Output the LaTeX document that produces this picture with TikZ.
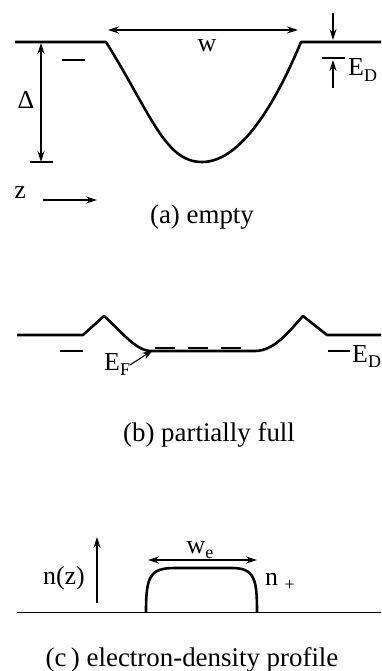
\documentclass[tikz,border=0pt]{standalone}
\usepackage{fontspec}
\setmainfont{Liberation Serif}
\usetikzlibrary{positioning, arrows.meta}
\newcommand{\lowsub}[1]{\raisebox{-0.45ex}{\fontsize{18}{20}\selectfont #1}}

\begin{document}
\begin{tikzpicture}[x=1bp, y=-1bp,
    well/.style={line width=2.6pt, line join=round},
    level/.style={line width=2.2pt},
    dim/.style={line width=1.1pt, -{Stealth[length=11bp, width=7bp]}},
    dimboth/.style={line width=1.1pt,
      {Stealth[length=11bp, width=7bp]}-{Stealth[length=11bp, width=7bp]}},
    lbl/.style={font=\fontsize{26}{30}\selectfont, inner sep=0pt},
    caption/.style={font=\fontsize{27}{32}\selectfont, inner sep=0pt}]
  \useasboundingbox (0,0) rectangle (381,671);

  % (a) empty
  \coordinate (aL) at (15,42);
  \coordinate (aWl) at (106,42);
  \coordinate (aBot) at (202,162);
  \coordinate (aWr) at (301,42);
  \coordinate (aR) at (381,42);
  \draw[well] (aL) -- (aWl) .. controls (151,114) and (165,162) .. (aBot)
    .. controls (237,162) and (271,114) .. (aWr) -- (aR);
  \coordinate (wL) at (108,30);
  \coordinate (wR) at (298,30);
  \draw[dimboth] (wL) -- (wR);
  \node[lbl, anchor=base] (wlab) at (207,52) {w};
  \coordinate (dTop) at (41,43);
  \coordinate (dBot) at (41,162);
  \coordinate (tickL) at (30,162);
  \coordinate (tickR) at (53,162);
  \draw[dimboth] (dTop) -- (dBot);
  \draw[line width=1.3pt] (tickL) -- (tickR);
  \node[lbl] (delta) at (26,100) {Δ};
  \coordinate (dLa) at (62,60);
  \coordinate (dLb) at (85,60);
  \draw[level] (dLa) -- (dLb);
  \coordinate (dRa) at (322,58);
  \coordinate (dRb) at (345,58);
  \draw[level] (dRa) -- (dRb);
  \coordinate (eDtop) at (333,13);
  \coordinate (eDline) at (333,40);
  \coordinate (eDlow) at (333,88);
  \coordinate (eDdash) at (333,60);
  \draw[dim] (eDtop) -- (eDline);
  \draw[dim] (eDlow) -- (eDdash);
  \node[lbl, anchor=base west] (eDa) at (348,76) {E\lowsub{D}};
  \node[lbl, anchor=base] (zlab) at (20,198) {z};
  \coordinate (zA) at (43,200);
  \coordinate (zB) at (97,200);
  \draw[dim] (zA) -- (zB);
  \node[caption] (capA) at (202,217) {(a) empty};

  % (b) partially full
  \coordinate (bL) at (17,335);
  \coordinate (bKl) at (83,335);
  \coordinate (bPl) at (104,316);
  \coordinate (bFl) at (150,351);
  \coordinate (bFr) at (255,351);
  \coordinate (bPr) at (303,316);
  \coordinate (bKr) at (327,335);
  \coordinate (bR) at (381,335);
  \draw[well] (bL) -- (bKl) -- (bPl) .. controls (120,330) and (135,350) .. (bFl)
    -- (bFr) .. controls (275,351) and (290,330) .. (bPr) -- (bKr) -- (bR);
  \coordinate (fA) at (155,348);
  \coordinate (fB) at (242,348);
  \draw[level, dash pattern=on 20bp off 13bp] (fA) -- (fB);
  \coordinate (bDa) at (60,351);
  \coordinate (bDb) at (83,351);
  \draw[level] (bDa) -- (bDb);
  \coordinate (bDc) at (328,351);
  \coordinate (bDd) at (350,351);
  \draw[level] (bDc) -- (bDd);
  \node[lbl, anchor=base west] (eDb) at (352,362) {E\lowsub{D}};
  \node[lbl, anchor=base west] (eF) at (104,370) {E\lowsub{F}};
  \coordinate (eFtail) at (130,365);
  \coordinate (eFtip) at (153,350);
  \draw[dim] (eFtail) -- (eFtip);
  \node[caption] (capB) at (209,435) {(b) partially full};

  % (c) electron-density profile
  \coordinate (cL) at (17,612);
  \coordinate (cR) at (381,612);
  \draw[line width=1pt] (cL) -- (cR);
  \coordinate (nA) at (146,612);
  \coordinate (nB) at (257,612);
  \draw[well] (nA) .. controls (146,576) and (150,568) .. (175,568) -- (232,568)
    .. controls (255,568) and (257,580) .. (nB);
  \coordinate (weL) at (148,560);
  \coordinate (weR) at (257,560);
  \draw[dimboth] (weL) -- (weR);
  \node[lbl, anchor=base] (welab) at (200,553) {w\lowsub{e}};
  \coordinate (nzLow) at (97,603);
  \coordinate (nzTop) at (97,537);
  \draw[dim] (nzLow) -- (nzTop);
  \node[lbl, anchor=base] (nzlab) at (64,584) {n(z)};
  \node[lbl, anchor=base west] (nplus) at (265,585) {n \lowsub{+}};
  \node[caption] (capC) at (192,660) {(c\,) electron-density profile};
\end{tikzpicture}
\end{document}
